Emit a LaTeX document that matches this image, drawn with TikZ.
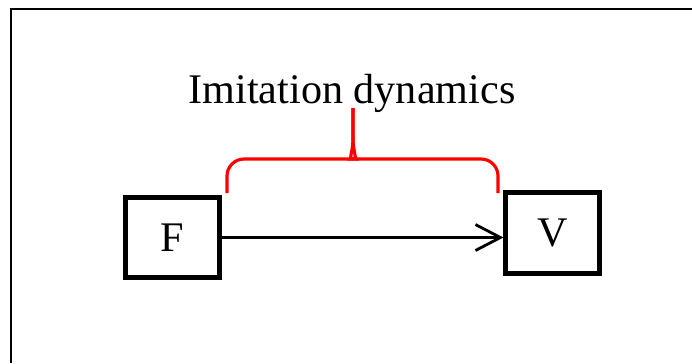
\documentclass[tikz,border=0pt]{standalone}
\usepackage{fontspec}
\setmainfont{Liberation Serif}
\usepackage{tikz}
\usetikzlibrary{arrows.meta,positioning}
\definecolor{bracered}{RGB}{255,0,0}

\begin{document}
\begin{tikzpicture}[x=0.02cm, y=-0.02cm, font=\fontsize{24}{28}\selectfont]
	\useasboundingbox (0,0) rectangle (692,363);
	\draw[line width=1.4pt] (11,363) -- (11,9) -- (692,9);
	
	\node[draw, line width=2.3pt, minimum width=1.88cm, minimum height=1.6cm] (F) at (172.5,237.5) {F};
	\node[draw, line width=2.3pt, minimum width=1.88cm, minimum height=1.62cm] (V) at (552.5,233) {V};
	\node[anchor=base] (label) at (352,103) {Imitation dynamics};
	\coordinate (bl) at (227,193);
	\coordinate (br) at (498,193);
	\coordinate (tip) at (353,108);
	
	\draw[-{Straight Barb[length=0.5cm, width=0.52cm]}, line width=1.6pt] (F.east) -- (F.east -| V.west);
	\draw[bracered, line width=1.8pt, rounded corners=0.34cm] (bl) |- (336,159) [sharp corners] .. controls (348,159) and (353,153) .. (353,138) -- (tip);
	\draw[bracered, line width=1.8pt, rounded corners=0.34cm] (br) |- (370,159) [sharp corners] .. controls (358,159) and (353,153) .. (353,138) -- (tip);
\end{tikzpicture}
\end{document}
